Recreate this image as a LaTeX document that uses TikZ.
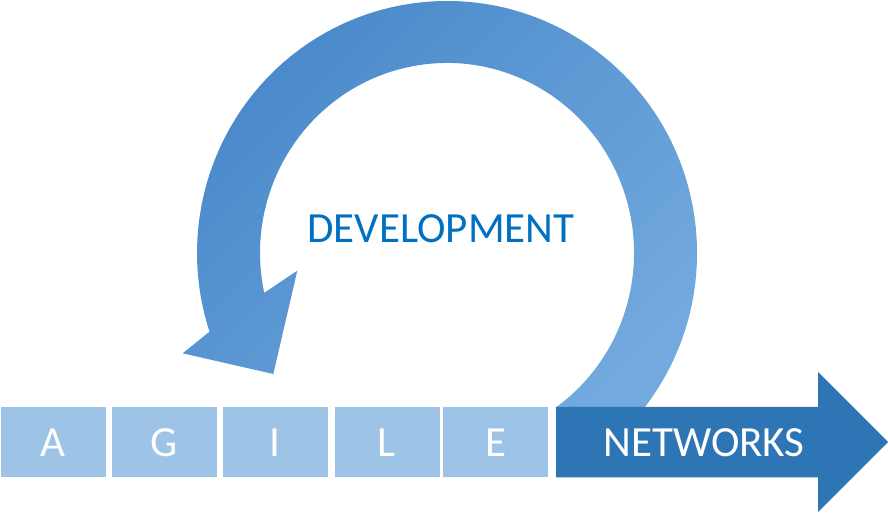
\documentclass[tikz,border=0pt]{standalone}
\usepackage{fontspec}
\setmainfont{Carlito}
\definecolor{boxblue}{HTML}{9DC3E6}
\definecolor{netblue}{HTML}{2E75B6}
\definecolor{devblue}{HTML}{0070C0}
\definecolor{arcdark}{HTML}{4888C9}
\definecolor{arclight}{HTML}{72A9DE}
\begin{document}
\begin{tikzpicture}[x=1pt,y=1pt,
  bigtext/.style={font=\fontsize{43}{50}\selectfont, inner sep=0pt},
  letterbox/.style={bigtext, fill=boxblue, text=white, minimum width=105pt, minimum height=70.5pt},
  arcband/.style={top color=arcdark, bottom color=arclight, shading angle=45}]
\useasboundingbox (0,0) rectangle (888,513);
% circular arrow
\shade[arcband] (644.9,106)
  arc[start angle=-37.67, end angle=198.2, x radius=250, y radius=252]
  -- (182.7,159.7) -- (273.3,139) -- (297.3,242.3) -- (264.2,220.2)
  arc[start angle=192.1, end angle=-54.15, x radius=187, y radius=190]
  -- cycle;
% letter boxes
\node[letterbox] (bA) at (53,70.75) {A};
\node[letterbox] (bG) at (164.5,70.75) {G};
\node[letterbox] (bI) at (275,70.75) {I};
\node[letterbox] (bL) at (387,70.75) {L};
\node[letterbox] (bE) at (495.5,70.75) {E};
% networks arrow
\fill[netblue] (556,35.5) -- (818,35.5) -- (818,1) -- (888,71) -- (818,141) -- (818,106) -- (556,106) -- cycle;
\node[bigtext, text=white] (net) at (704,70.75) {NETWORKS};
% center label
\node[bigtext, text=devblue] (dev) at (441,284) {DEVELOPMENT};
\end{tikzpicture}
\end{document}
